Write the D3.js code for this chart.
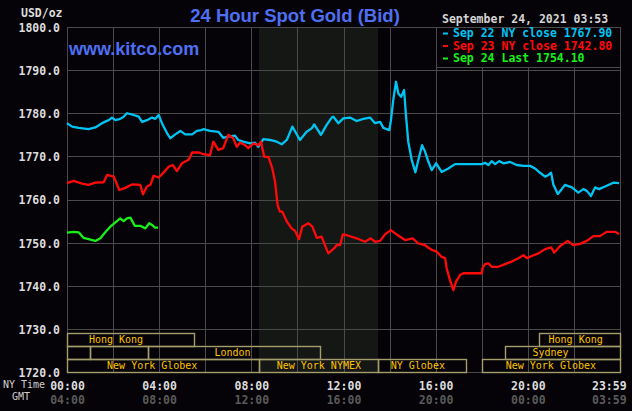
<!DOCTYPE html>
<html><head><meta charset="utf-8">
<script src="https://cdn.jsdelivr.net/npm/d3@7"></script>
<style>html,body{margin:0;padding:0;background:#050307;}svg{display:block}</style>
</head><body><svg id="c" width="632" height="411"></svg>
<script>
// ---------- DATA ----------
const yTicks = [1720,1730,1740,1750,1760,1770,1780,1790,1800];
const nyTimeTicks = [0,4,8,12,16,20,23.983];
const nyTimeLabels = ["00:00","04:00","08:00","12:00","16:00","20:00","23:59"];
const gmtLabels = ["04:00","08:00","12:00","16:00","20:00","00:00","03:59"];

const cyanHours = [0,0.22,0.51,0.94,1.23,1.52,1.81,1.95,2.10,2.31,2.46,2.60,2.89,3.11,3.26,3.47,3.69,3.83,3.98,4.12,4.34,4.48,4.70,4.92,5.13,5.43,5.64,5.83,5.92,6.21,6.57,6.78,7.00,7.29,7.43,7.65,7.94,8.16,8.30,8.52,8.81,9.10,9.32,9.54,9.78,10.11,10.40,10.62,10.73,11.02,11.27,11.49,11.56,11.78,11.99,12.28,12.57,12.86,13.15,13.37,13.59,13.73,13.99,14.06,14.16,14.28,14.38,14.50,14.63,14.71,14.81,14.96,15.12,15.25,15.41,15.54,15.68,15.83,16.02,16.26,16.55,16.84,17.49,18.00,18.14,18.29,18.43,18.58,18.76,18.94,19.23,19.52,19.81,20.10,20.31,20.53,20.75,20.89,21.01,21.11,21.30,21.47,21.61,21.91,22.19,22.41,22.56,22.74,22.92,23.09,23.35,23.71,23.96];
const cyanPrices = [1777.7,1776.9,1776.6,1776.3,1776.7,1777.7,1778.4,1779.0,1778.4,1778.7,1779.2,1780.0,1779.6,1779.2,1778.0,1778.4,1779.0,1778.7,1779.6,1777.7,1775.4,1774.2,1775.1,1775.9,1775.1,1775.1,1775.9,1776.1,1776.3,1775.9,1775.7,1774.3,1774.6,1774.8,1773.8,1773.4,1773.0,1773.2,1772.2,1774.0,1773.8,1773.4,1772.8,1773.8,1776.9,1773.8,1775.7,1776.5,1777.4,1775.0,1777.3,1779.0,1779.2,1777.7,1778.8,1779.0,1778.2,1778.7,1779.0,1777.7,1778.0,1776.6,1776.1,1778.4,1783.1,1787.3,1784.6,1783.8,1785.4,1779.6,1773.4,1769.2,1766.3,1769.2,1772.6,1771.1,1768.8,1766.8,1768.4,1766.4,1767.2,1768.2,1768.2,1768.2,1768.5,1768.0,1768.9,1768.2,1768.9,1768.4,1768.7,1768.0,1767.8,1767.8,1767.2,1766.2,1765.3,1765.7,1766.2,1763.4,1761.3,1762.4,1763.4,1762.8,1761.6,1762.4,1762.0,1760.8,1762.8,1762.4,1763.0,1763.9,1763.8];

const redHours = [0,0.29,0.65,0.94,1.23,1.59,1.74,2.03,2.27,2.53,2.82,3.18,3.30,3.47,3.62,3.76,3.98,4.20,4.41,4.59,4.77,4.99,5.28,5.43,5.72,5.92,6.21,6.35,6.57,6.78,7.00,7.22,7.37,7.51,7.73,7.87,8.09,8.30,8.42,8.56,8.74,8.91,9.03,9.14,9.24,9.34,9.54,9.75,9.90,10.07,10.21,10.47,10.65,10.84,11.05,11.34,11.60,11.70,11.85,11.97,12.21,12.57,12.93,13.18,13.37,13.59,13.80,14.05,14.31,14.67,15.00,15.25,15.54,15.83,16.05,16.26,16.41,16.48,16.62,16.77,16.88,17.06,17.20,18.00,18.03,18.14,18.29,18.43,18.72,19.01,19.30,19.59,19.81,19.95,20.17,20.46,20.75,21.01,21.15,21.40,21.73,21.97,22.27,22.56,22.84,23.13,23.42,23.78,23.96];
const redPrices = [1763.8,1764.3,1763.7,1763.4,1763.9,1764.0,1765.7,1765.3,1762.2,1762.7,1763.5,1763.4,1761.2,1763.0,1763.4,1765.5,1765.1,1766.3,1767.6,1768.0,1766.6,1768.4,1769.2,1770.9,1770.9,1770.5,1770.3,1773.4,1771.5,1771.9,1775.0,1774.2,1772.2,1773.2,1772.6,1771.9,1773.0,1772.6,1773.4,1769.9,1769.9,1767.2,1764.1,1758.7,1757.2,1757.2,1754.9,1753.3,1752.7,1750.8,1753.7,1754.5,1753.7,1751.1,1751.4,1747.5,1748.7,1749.4,1749.4,1751.9,1751.6,1751.0,1750.2,1751.0,1750.2,1750.4,1751.9,1752.9,1751.9,1750.6,1751.0,1749.8,1749.4,1748.3,1747.9,1746.7,1746.4,1744.0,1741.3,1739.0,1740.9,1742.5,1742.9,1742.9,1744.0,1745.0,1745.2,1744.4,1744.4,1745.0,1745.6,1746.4,1747.1,1746.4,1746.9,1747.5,1748.5,1748.9,1747.7,1749.2,1750.4,1749.4,1749.7,1750.4,1751.5,1751.5,1752.5,1752.5,1752.0];

const greenHours = [0,0.29,0.51,0.72,0.94,1.23,1.45,1.66,1.88,2.10,2.31,2.46,2.60,2.75,2.94,3.18,3.40,3.57,3.69,3.81,3.95];
const greenPrices = [1752.3,1752.5,1752.4,1751.1,1750.8,1750.4,1751.0,1752.4,1753.7,1754.7,1755.6,1755.0,1755.6,1755.8,1753.9,1753.9,1753.3,1754.5,1754.1,1753.5,1753.5];

const legendLabels = ["Sep 22 NY close 1767.90","Sep 23 NY close 1742.80","Sep 24 Last 1754.10"];
const seriesColors = ["#00c4f4","#ff0a0a","#18f018"];

const sessionNames = ["Hong Kong","Hong Kong","","","London","Sydney","New York Globex","New York NYMEX","NY Globex","New York Globex"];
const sessionStart = [0,20.5,0,1,3.5,19,0,8.33,13.5,18];
const sessionEnd   = [5.5,24,1,3.5,11,24,8.33,13.5,17.33,24];
const sessionRow   = [0,0,1,1,1,1,2,2,2,2];
const sessionLabelAt = [0.95,20.9,0,0,6.4,20.2,1.74,9.1,14.05,19.04];

const nymexStart = 8.33, nymexEnd = 13.5;

// ---------- DRAW ----------
const svg = d3.select("#c");
const mono = "'DejaVu Sans Mono', monospace";
const L = 67, R = 620, T = 27, B = 372;
const x = d3.scaleLinear().domain([0,24]).range([L,R]);
const y = d3.scaleLinear().domain([1720,1800]).range([B,T]);
const gridCol = "#4a4a4a";

svg.append("rect").attr("width",632).attr("height",411).attr("fill","#050307");
svg.append("rect").attr("x",x(nymexStart)).attr("y",T).attr("width",x(nymexEnd)-x(nymexStart)).attr("height",B-T).attr("fill","#141714");

const px = v => Math.round(v)+0.5;
const g = svg.append("g");
d3.range(0,25,2).forEach(h=>{
  g.append("line").attr("x1",px(x(h))).attr("x2",px(x(h))).attr("y1",T).attr("y2",B).attr("stroke",gridCol);
});
yTicks.forEach(v=>{
  g.append("line").attr("x1",L).attr("x2",R).attr("y1",px(y(v))).attr("y2",px(y(v))).attr("stroke",gridCol);
});

// sessions
const rowTop = [333,346,359], rowH = 13;
sessionNames.forEach((n,i)=>{
  const r = sessionRow[i];
  svg.append("rect").attr("x",px(x(sessionStart[i]))).attr("y",rowTop[r]+0.5)
    .attr("width",Math.round(x(sessionEnd[i]))-Math.round(x(sessionStart[i]))).attr("height",rowH)
    .attr("fill","none").attr("stroke","#a49e6c").attr("stroke-width",1.4);
  if(n) svg.append("text").attr("x",x(sessionLabelAt[i])).attr("y",rowTop[r]+10)
    .attr("fill","#ffc400").attr("font-family",mono).attr("font-size","10px").text(n);
});

// lines
const line = d3.line().x(d=>x(d[0])).y(d=>y(d[1]));
const series = [[cyanHours,cyanPrices],[redHours,redPrices],[greenHours,greenPrices]];
series.forEach((s,i)=>{
  svg.append("path").datum(d3.zip(s[0],s[1])).attr("d",line).attr("fill","none")
    .attr("stroke",seriesColors[i]).attr("stroke-width",2.3).attr("stroke-linejoin","round");
});

// legend
svg.append("rect").attr("x",px(x(16))).attr("y",T+0.5).attr("width",Math.round(x(24))-Math.round(x(16))).attr("height",40)
  .attr("fill","#050307").attr("stroke",gridCol);
legendLabels.forEach((t,i)=>{
  const yy = 37 + i*12.5;
  svg.append("rect").attr("x",443).attr("y",yy-4.5).attr("width",5).attr("height",2).attr("fill",seriesColors[i]);
  svg.append("text").attr("x",453).attr("y",yy).attr("fill",seriesColors[i]).attr("font-family",mono)
    .attr("font-weight","bold").attr("font-size","11.5px").text(t);
});

// y axis
const ya = svg.append("g").attr("transform",`translate(${L-4},0)`)
  .call(d3.axisLeft(y).tickValues(yTicks).tickFormat(d3.format(".1f")).tickSize(0));
ya.select(".domain").remove();
ya.selectAll("text").attr("fill","#dcdcdc").attr("font-family",mono).attr("font-weight","bold").attr("font-size","11.5px").attr("dy","0.38em");

// x axes
function bottomAxis(labels, ty, col){
  const a = svg.append("g").attr("transform",`translate(0,${ty})`)
    .call(d3.axisBottom(x).tickValues(nyTimeTicks).tickFormat((d,i)=>labels[i]).tickSize(0));
  a.select(".domain").remove();
  a.selectAll("text").attr("fill",col).attr("font-family",mono).attr("font-weight","bold").attr("font-size","11.5px").attr("dy","0");
  a.selectAll(".tick").filter((d,i)=>i===labels.length-1).select("text").attr("text-anchor","end").attr("x",6.5);
}
bottomAxis(nyTimeLabels, 387, "#dcdcdc");
bottomAxis(gmtLabels, 401, "#5a5a5a");

svg.append("text").attr("x",3).attr("y",387.5).attr("fill","#cfcfcf").attr("font-family",mono).attr("font-size","10px").text("NY Time");
svg.append("text").attr("x",12).attr("y",400).attr("fill","#cfcfcf").attr("font-family",mono).attr("font-size","10px").text("GMT");

svg.append("text").attr("x",21).attr("y",17).attr("fill","#dcdcdc").attr("font-family",mono).attr("font-weight","bold").attr("font-size","11.5px").text("USD/oz");
svg.append("text").attr("x",442).attr("y",23).attr("fill","#d4d4d4").attr("font-family",mono).attr("font-weight","bold").attr("font-size","11.5px").text("September 24, 2021 03:53");

svg.append("text").attr("x",295).attr("y",22).attr("text-anchor","middle").attr("fill","#4f6ff2")
  .attr("font-family","'Liberation Sans', Arial, sans-serif").attr("font-weight","bold").attr("font-size","18.5px").text("24 Hour Spot Gold (Bid)");
svg.append("text").attr("x",69).attr("y",55).attr("fill","#4f6ff2")
  .attr("font-family","'Liberation Sans', Arial, sans-serif").attr("font-weight","bold").attr("font-size","18px").text("www.kitco.com");
</script></body></html>
